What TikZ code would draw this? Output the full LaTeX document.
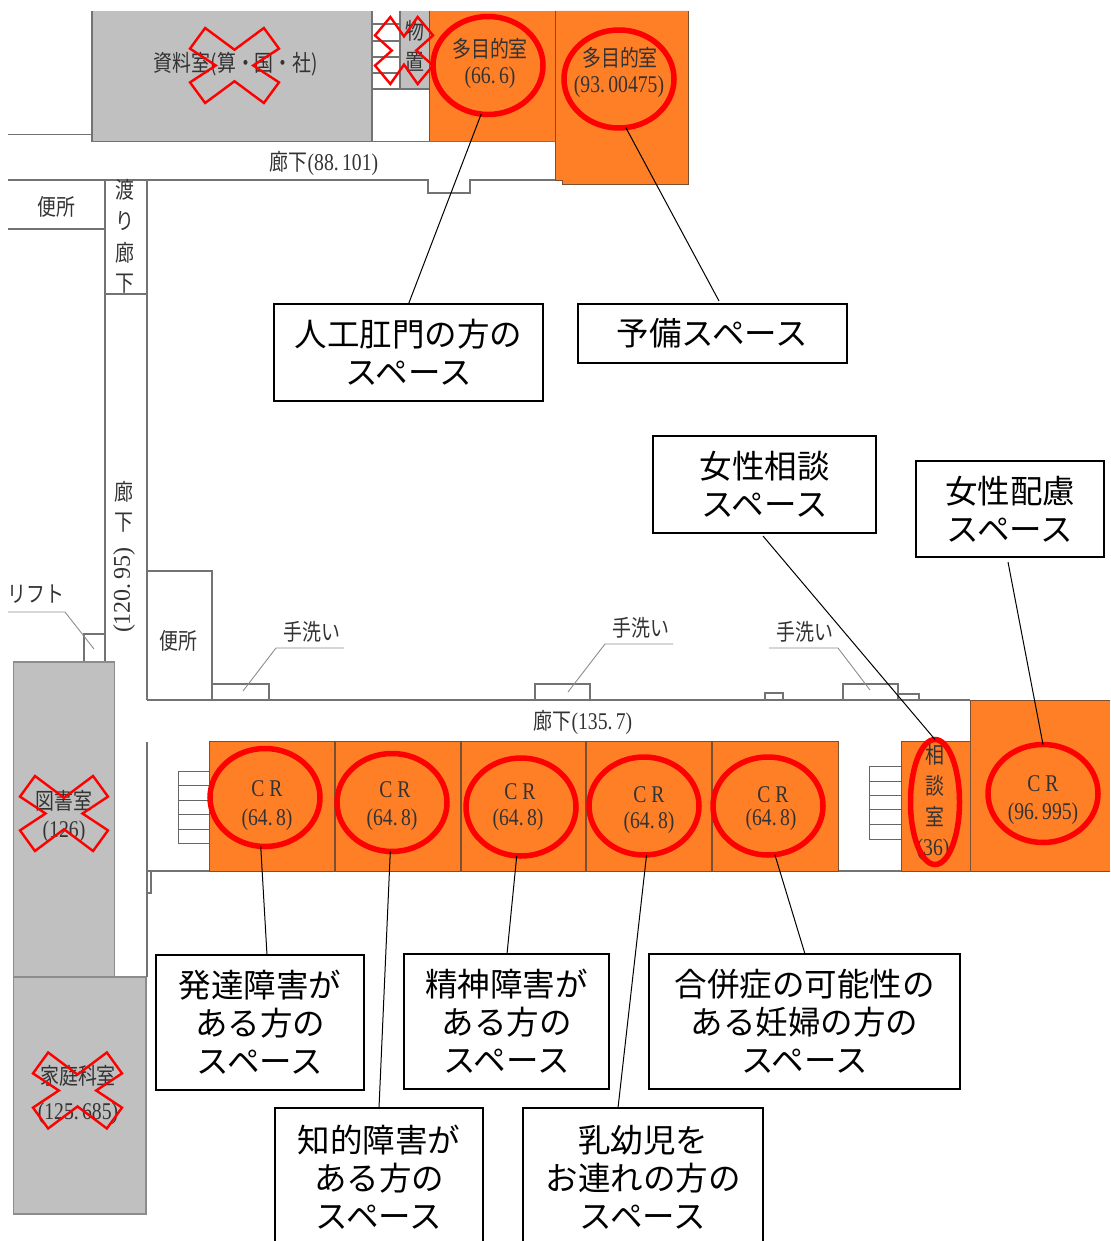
\documentclass[tikz,border=0pt]{standalone}
\usepackage{fontspec}
\usepackage{graphicx}
\usetikzlibrary{shapes.geometric}
\setmainfont{Liberation Serif}
\newfontfamily\jp{Noto Sans CJK JP}
\newcommand{\pl}[1]{{\jp\fontsize{22.8}{25}\selectfont\scalebox{.83}[1]{#1}}}
\newcommand{\pd}[1]{{\fontsize{24}{24}\selectfont\scalebox{.82}[1]{#1}}}
\newcommand{\redx}[5]{% cx cy W H tipfrac
  \draw[xmark] (#1-#5*#3,#2-#4) -- (#1,#2-.42*#4) -- (#1+#5*#3,#2-#4) -- (#1+#3,#2-.45*#4) -- (#1+.42*#3,#2)
   -- (#1+#3,#2+.45*#4) -- (#1+#5*#3,#2+#4) -- (#1,#2+.42*#4) -- (#1-#5*#3,#2+#4) -- (#1-#3,#2+.45*#4) -- (#1-.42*#3,#2) -- (#1-#3,#2-.45*#4) -- cycle;}
\tikzset{
  wall/.style={draw=black!55,line width=1.1pt},
  thin wall/.style={draw=black!60,line width=.9pt},
  room/.style={fill=roomor,draw=roomed,line width=.9pt},
  grayroom/.style={fill=roomgr,draw=black!45,line width=1.1pt},
  xmark/.style={draw=red,line width=2.4pt,line join=miter},
  ring/.style={ellipse,draw=red,line width=5.5pt,inner sep=0pt,outer sep=0pt,minimum width=110pt,minimum height=98pt},
  conn/.style={draw=black,line width=1pt},
  lead/.style={draw=black!45,line width=.9pt},
  lbl/.style={text=black!80,inner sep=0pt,outer sep=0pt},
  callout/.style={draw=black,fill=white,line width=2pt,inner sep=0pt,outer sep=0pt,align=center,font=\jp\fontsize{32.5}{38}\selectfont},
}
\definecolor{roomor}{HTML}{FF7F27}
\definecolor{roomed}{HTML}{7A5030}
\definecolor{roomgr}{HTML}{C0C0C0}
\begin{document}
\begin{tikzpicture}[x=1pt,y=-1pt]
\useasboundingbox (0,0) rectangle (1110,1241);
\clip (0,0) rectangle (1110,1241);
% top rooms
\fill[roomgr] (92,11) rectangle (372,141.5);
\draw[wall] (92,11) -- (92,141.5) -- (372,141.5) -- (372,11);
\fill[roomgr] (400,11) rectangle (429,89);
\draw[wall] (400,11) -- (400,89) -- (429,89);
\foreach \yy in {24,41,57,73,89} \draw[wall] (372,\yy) -- (400,\yy);
\draw[wall] (372,141.5) -- (429,141.5);
\fill[roomor] (429,11) rectangle (555,141.5);
\draw[roomed,line width=.9pt] (429,11) -- (429,141.5) (555,11) -- (555,180);
\draw[wall] (429,141.5) -- (555,141.5);
\fill[roomor] (555,11) -- (688,11) -- (688,184.5) -- (562,184.5) -- (562,180) -- (555,180) -- cycle;
\draw[roomed,line width=.9pt] (688,11) -- (688,184.5) -- (562,184.5) -- (562,180) -- (555,180) -- (555,11);
% corridors top
\draw[wall] (8,134.5) -- (92,134.5);
\draw[wall] (8,180) -- (428,180) -- (428,193) -- (470,193) -- (470,180) -- (555,180);
\draw[wall] (8,229) -- (105,229);
\draw[wall] (105,180) -- (105,662);
\draw[wall] (147,180) -- (147,294);
\draw[wall] (105,294) -- (147,294) -- (147,700);
% lift
\draw[wall] (84,662) -- (84,634) -- (105,634);
\draw[lead] (8,612) -- (65,612) -- (94,649);
% west rooms
\draw[wall] (147,571) -- (212,571) -- (212,700);
\draw[wall] (147,700) -- (970,700);
\draw[wall] (212,684) -- (269,684) -- (269,700);
\draw[lead] (344,648) -- (276,648) -- (243,691);
\draw[wall] (535,700) -- (535,684) -- (590,684) -- (590,700);
\draw[lead] (673,644) -- (605,644) -- (568,692);
\draw[wall] (765,700) -- (765,693) -- (783,693) -- (783,700);
\draw[wall] (843,700) -- (843,684) -- (898,684) -- (898,700);
\draw[wall] (898,694) -- (919,694) -- (919,700);
\draw[lead] (769,648) -- (838,648) -- (870,690);
% gray rooms left
\draw[grayroom] (13.5,662) rectangle (114.5,977);
\draw[grayroom] (13.5,977) rectangle (146,1214);
\draw[wall] (147,742) -- (147,977);
\draw[wall] (147,871) -- (209,871);
\draw[wall] (151,871) -- (151,893) -- (147,893);
\draw[wall] (838,871) -- (901,871);
% stairs
\foreach \yy in {771,785,800,814,829,843} \draw[thin wall] (178,\yy) -- (209,\yy);
\draw[thin wall] (178,771) -- (178,843);
\foreach \yy in {766,781,795,809,824,839} \draw[thin wall] (869,\yy) -- (901,\yy);
\draw[thin wall] (869,766) -- (869,839);
% CR row
\draw[room] (209,741) rectangle (838,871);
\foreach \xx in {335,461,586,712} \draw[roomed,line width=1.1pt] (\xx,741) -- (\xx,871);
\draw[room] (901,741) rectangle (970,871);
\fill[roomor] (970,700) rectangle (1110,871);
\draw[roomed,line width=.9pt] (1110,700) -- (970,700) -- (970,871) -- (1110,871);
% plan labels
\node[lbl] (t1) at (236,64) {\pl{資料室(算・国・社)}};
\node[lbl] (t2a) at (415,31) {\pl{物}};
\node[lbl] (t2b) at (415,62) {\pl{置}};
\node[lbl] (t3a) at (490,49) {\pl{多目的室}};
\node[lbl] (t3b) at (490,78) {\pd{(66.\,6)}};
\node[lbl] (t4a) at (620,58) {\pl{多目的室}};
\node[lbl] (t4b) at (619,87) {\pd{(93.\,00475)}};
\node[lbl] (t5) at (324,163) {\pl{廊下}\pd{(88.\,101)}};
\node[lbl] (t6) at (56,207) {\pl{便所}};
\node[lbl] (t7a) at (125,190) {\pl{渡}};
\node[lbl] (t7b) at (125,221) {\pl{り}};
\node[lbl] (t7c) at (125,253) {\pl{廊}};
\node[lbl] (t7d) at (125,284) {\pl{下}};
\node[lbl] (t8a) at (124,492) {\pl{廊}};
\node[lbl] (t8b) at (124,523) {\pl{下}};
\node[lbl,rotate=90] (t8c) at (124,590) {\fontsize{24}{24}\selectfont (120.\,95)};
\node[lbl] (t9) at (36,594) {\pl{リフト}};
\node[lbl] (t10) at (178,641) {\pl{便所}};
\node[lbl] (t11) at (312,632) {\pl{手洗い}};
\node[lbl] (t12) at (641,628) {\pl{手洗い}};
\node[lbl] (t13) at (805,632) {\pl{手洗い}};
\node[lbl] (t14) at (583,722) {\pl{廊下}\pd{(135.\,7)}};
\node[lbl] (t15a) at (64,801) {\pl{図書室}};
\node[lbl] (t15b) at (64,832) {\pd{(126)}};
\node[lbl] (t16a) at (78,1076) {\pl{家庭科室}};
\node[lbl] (t16b) at (78,1114) {\pd{(125.\,685)}};
\node[lbl] (cr1a) at (267,789) {\pd{C R}};
\node[lbl] (cr1b) at (267,820) {\pd{(64.\,8)}};
\node[lbl] (cr2a) at (395,790) {\pd{C R}};
\node[lbl] (cr2b) at (392,820) {\pd{(64.\,8)}};
\node[lbl] (cr3a) at (520,792) {\pd{C R}};
\node[lbl] (cr3b) at (518,820) {\pd{(64.\,8)}};
\node[lbl] (cr4a) at (649,795) {\pd{C R}};
\node[lbl] (cr4b) at (649,823) {\pd{(64.\,8)}};
\node[lbl] (cr5a) at (773,795) {\pd{C R}};
\node[lbl] (cr5b) at (771,820) {\pd{(64.\,8)}};
\node[lbl] (cr6a) at (1043,784) {\pd{C R}};
\node[lbl] (cr6b) at (1043,814) {\pd{(96.\,995)}};
\node[lbl] (s1) at (935,755) {\pl{相}};
\node[lbl] (s2) at (935,786) {\pl{談}};
\node[lbl] (s3) at (935,817) {\pl{室}};
\node[lbl] (s4) at (933,850) {\pd{(36)}};
% red crosses
\redx{234.5}{65.5}{44.5}{37.5}{.66}
\redx{404}{50.5}{29}{33.5}{.47}
\redx{64}{813.5}{44}{37.5}{.66}
\redx{77.5}{1090.5}{44.5}{38}{.66}
% rings
\node[ring] (c1) at (488,65.5) {};
\node[ring] (c2) at (619,79) {};
\node[ring] (c3) at (265,797.5) {};
\node[ring] (c4) at (392,802.5) {};
\node[ring] (c5) at (521,807) {};
\node[ring] (c6) at (644,806) {};
\node[ring] (c7) at (768,806) {};
\node[ring,minimum width=49pt,minimum height=125pt] (c8) at (935,802) {};
\node[ring] (c9) at (1043,793.5) {};
% callouts
\node[callout,minimum width=269pt,minimum height=97pt] (b1) at (408.5,352.5) {人工肛門の方の\\スペース};
\node[callout,minimum width=269pt,minimum height=59pt] (b2) at (712.5,333.5) {予備スペース};
\node[callout,minimum width=223pt,minimum height=97pt] (b3) at (764.5,484.5) {女性相談\\スペース};
\node[callout,minimum width=188pt,minimum height=96pt] (b4) at (1010,509) {女性配慮\\スペース};
\node[callout,minimum width=208pt,minimum height=135pt] (b5) at (260,1022.5) {発達障害が\\ある方の\\スペース};
\node[callout,minimum width=208pt,minimum height=138pt] (b6) at (379,1177) {知的障害が\\ある方の\\スペース};
\node[callout,minimum width=205pt,minimum height=135pt] (b7) at (506.5,1021.5) {精神障害が\\ある方の\\スペース};
\node[callout,minimum width=240pt,minimum height=138pt] (b8) at (643,1177) {乳幼児を\\お連れの方の\\スペース};
\node[callout,minimum width=311pt,minimum height=135pt] (b9) at (804.5,1021.5) {合併症の可能性の\\ある妊婦の方の\\スペース};
% connectors
\draw[conn] (b1.north) -- (c1.262);
\draw[conn] ([xshift=6.5pt,yshift=3pt]b2.north) -- (c2.278);
\draw[conn] ([xshift=-1.5pt,yshift=-3pt]b3.south) -- (c8.90);
\draw[conn] ([xshift=-2pt,yshift=-5pt]b4.south) -- (c9.90);
\draw[conn] ([xshift=7pt]b5.north) -- (c3.265);
\draw[conn] (b6.north) -- (c4.268);
\draw[conn] ([xshift=.5pt]b7.north) -- (c5.265);
\draw[conn] ([xshift=-25pt]b8.north) -- (c6.273);
\draw[conn] ([xshift=.5pt]b9.north) -- (c7.278);
\end{tikzpicture}
\end{document}
